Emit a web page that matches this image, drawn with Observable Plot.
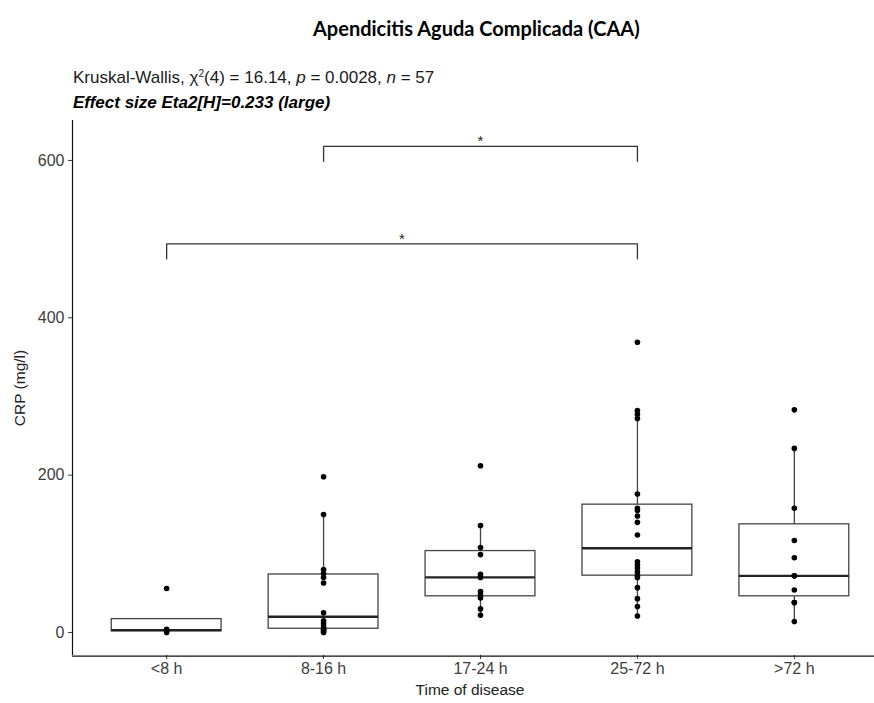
<!DOCTYPE html>
<html>
<head>
<meta charset="utf-8">
<script src="https://cdn.jsdelivr.net/npm/d3@7"></script>
<script src="https://cdn.jsdelivr.net/npm/@observablehq/plot@0.6"></script>
<style>
  html, body { margin: 0; padding: 0; background: #fff; }
  #wrap { position: relative; width: 874px; height: 703px; overflow: hidden; background: #fff; }
  #chart { position: absolute; left: 0; top: 0; }
  .txt { position: absolute; white-space: nowrap; line-height: 1; }
  #title { left: 313px; top: 16px; font: bold 20px Lato, "Open Sans", sans-serif; color: #000; }
  #sub1 { left: 73px; top: 68px; font: 17px "Liberation Sans", Arial, sans-serif; color: #1a1a1a; }
  #sub2 { left: 73px; top: 93px; font: italic bold 17px "Liberation Sans", Arial, sans-serif; color: #000; }
  #xlab { left: 470px; top: 690px; transform: translate(-50%, -50%); font: 15.5px "Liberation Sans", Arial, sans-serif; color: #222; }
  #ylab { left: 20px; top: 388px; transform: translate(-50%, -50%) rotate(-90deg); font: 15.5px "Liberation Sans", Arial, sans-serif; color: #222; }
  sup { font-size: 60%; vertical-align: 0.55em; line-height: 0; }
</style>
</head>
<body>
<div id="wrap">
  <div id="chart"></div>
  <div class="txt" id="title">Apendicitis Aguda Complicada (CAA)</div>
  <div class="txt" id="sub1">Kruskal-Wallis, χ<sup>2</sup>(4) = 16.14, <i>p</i> = 0.0028, <i>n</i> = 57</div>
  <div class="txt" id="sub2">Effect size Eta2[H]=0.233 (large)</div>
  <div class="txt" id="xlab">Time of disease</div>
  <div class="txt" id="ylab">CRP (mg/l)</div>
</div>
<script>
// ---- Data ----
const groups = ["<8 h", "8-16 h", "17-24 h", "25-72 h", ">72 h"];
const crpLt8    = [0, 2, 4, 56];
const crp8to16  = [0, 1, 3, 4, 7, 11, 15, 25, 63, 70, 75, 80, 150, 198];
const crp17to24 = [22, 30, 44, 48, 52, 70, 74, 99, 108, 136, 212];
const crp25to72 = [21, 33, 43, 57, 70, 73, 77, 82, 86, 90, 124, 140, 148, 155, 158, 176, 272, 277, 282, 369];
const crpGt72   = [14, 38, 38, 54, 72, 72, 95, 117, 158, 234, 283];
const yTicks = [0, 200, 400, 600];

// significance brackets (group indices, bracket height in mg/l, label)
const compFrom  = [1, 0];
const compTo    = [3, 3];
const compY     = [618, 494];
const compLabel = ["*", "*"];
const tipLength = 19;

// ---- Build tables ----
const series = [crpLt8, crp8to16, crp17to24, crp25to72, crpGt72];
const points = series.flatMap((vals, i) => vals.map(v => ({g: i, crp: v})));
const stats = series.map((vals, i) => {
  const s = vals.slice().sort(d3.ascending);
  const q1 = d3.quantile(s, 0.25), med = d3.quantile(s, 0.5), q3 = d3.quantile(s, 0.75);
  const iqr = q3 - q1;
  const lo = d3.min(s, v => v >= q1 - 1.5 * iqr ? v : NaN);
  const hi = d3.max(s, v => v <= q3 + 1.5 * iqr ? v : NaN);
  return {g: i, q1, med, q3, lo, hi};
});
const comps = compFrom.map((f, k) => ({from: f, to: compTo[k], y: compY[k], label: compLabel[k], mid: (f + compTo[k]) / 2}));
const bracketPts = comps.flatMap((c, k) => [
  {k, x: c.from, y: c.y - tipLength},
  {k, x: c.from, y: c.y},
  {k, x: c.to, y: c.y},
  {k, x: c.to, y: c.y - tipLength}
]);

const xDomain = [-0.6, groups.length - 1 + 0.6];
const yDomain = [-30, 650];
const halfBox = 0.35;

const chart = Plot.plot({
  width: 874,
  height: 703,
  marginLeft: 72, marginRight: 0, marginTop: 120, marginBottom: 48,
  style: {fontFamily: "'Liberation Sans', Arial, sans-serif", fontSize: "16px", color: "#3d3d3d", background: "transparent"},
  x: {domain: xDomain, range: [72, 888], ticks: d3.range(groups.length), tickFormat: i => groups[i], tickSize: 4, tickPadding: 3, label: null},
  y: {domain: yDomain, range: [655.6, 120.6], ticks: yTicks, tickSize: 4, tickPadding: 4, label: null},
  marks: [
    // axis lines (classic theme)
    Plot.ruleX([xDomain[0]], {stroke: "#111", strokeWidth: 1.2}),
    Plot.ruleY([yDomain[0]], {stroke: "#111", strokeWidth: 1.2}),
    // whiskers
    Plot.ruleX(stats, {x: "g", y1: "lo", y2: "hi", stroke: "#444", strokeWidth: 1.3}),
    // boxes
    Plot.rect(stats, {x1: d => d.g - halfBox, x2: d => d.g + halfBox, y1: "q1", y2: "q3", fill: "white", stroke: "#444", strokeWidth: 1.3}),
    // medians
    Plot.ruleY(stats, {x1: d => d.g - halfBox, x2: d => d.g + halfBox, y: "med", stroke: "#222", strokeWidth: 2.4}),
    // all observations
    Plot.dot(points, {x: "g", y: "crp", r: 2.8, fill: "#000", stroke: "none"}),
    // significance brackets
    Plot.line(bracketPts, {x: "x", y: "y", z: "k", stroke: "#333", strokeWidth: 1.3}),
    Plot.text(comps, {x: "mid", y: "y", text: "label", lineAnchor: "bottom", dy: 0, fontSize: 15, fill: "#222"})
  ]
});
document.getElementById("chart").appendChild(chart);
</script>
</body>
</html>
